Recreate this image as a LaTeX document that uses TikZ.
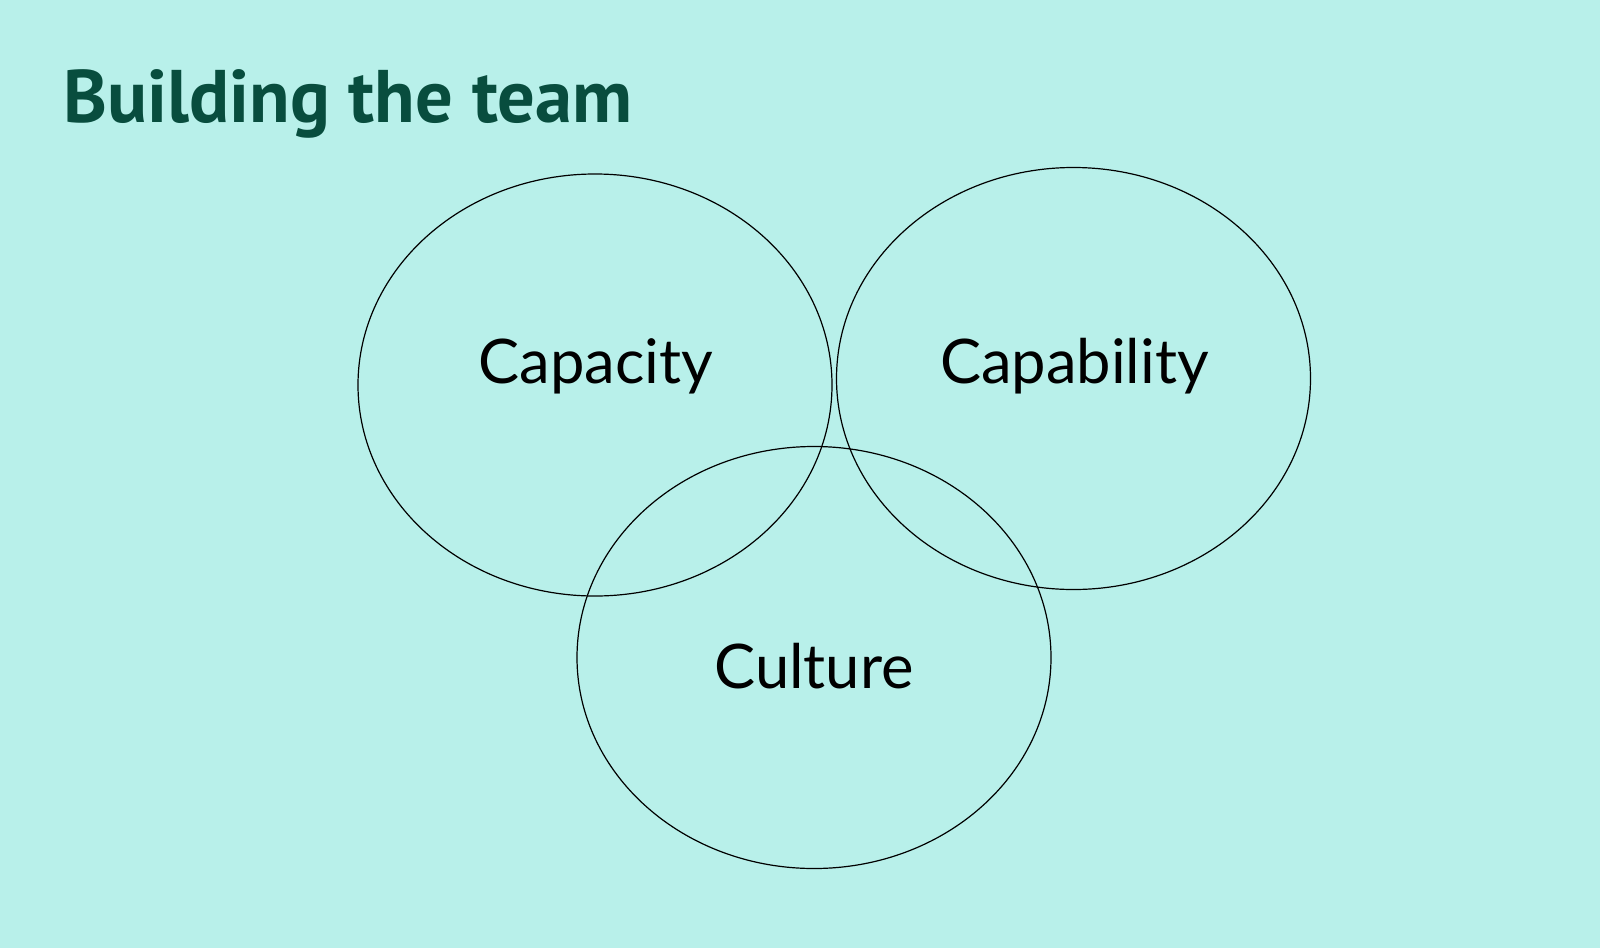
\documentclass[tikz,border=0pt]{standalone}
\usepackage{fontspec}
\usetikzlibrary{shapes.geometric}
\newfontfamily\labelfont{Lato}
\newfontfamily\titlefont{PT Sans}
\definecolor{bgcol}{RGB}{184,240,234}
\definecolor{titlecol}{RGB}{8,77,62}
\tikzset{
  ring/.style={draw=black, line width=1.2pt, ellipse, minimum width=474pt, minimum height=422pt, inner sep=0pt},
  lbl/.style={anchor=base, inner sep=0pt, font=\labelfont\fontsize{61.5}{70}\selectfont, text=black},
}
\begin{document}
\begin{tikzpicture}[x=1pt,y=-1pt]
\fill[bgcol] (0,0) rectangle (1600,948);
\useasboundingbox (0,0) rectangle (1600,948);
\node[anchor=base west, inner sep=0pt, text=titlecol, font=\titlefont\bfseries\fontsize{74.5}{80}\selectfont] (title) at (63,122.5) {Building the team};
\node[ring] (capacity) at (595,385) {};
\node[ring] (capability) at (1073.5,378.5) {};
\node[ring] (culture) at (814,657.5) {};
\node[lbl] (tcapacity) at (596,383.7) {Capacity};
\node[lbl] (tcapability) at (1074.5,383.7) {Capability};
\node[lbl] (tculture) at (814,688) {Culture};
\end{tikzpicture}
\end{document}
